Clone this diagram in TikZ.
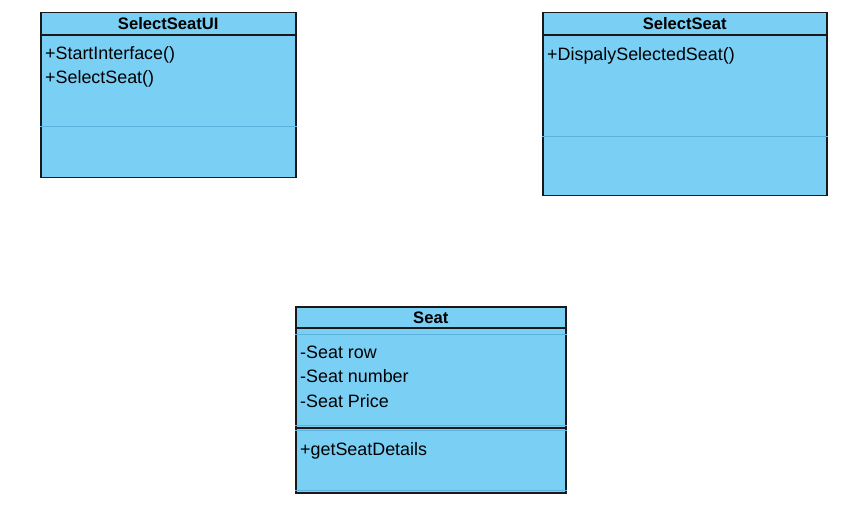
\documentclass[tikz,border=0pt]{standalone}
\usepackage{fontspec}
\setmainfont{Liberation Sans}
\usetikzlibrary{positioning}
\definecolor{classfill}{RGB}{122,207,245}
\definecolor{classrule}{RGB}{92,178,220}
\tikzstyle{classbox} = [draw=black!90, line width=1.5pt, fill=classfill, rectangle,
anchor=north west, inner sep=0pt]
\tikzstyle{title} = [font=\fontsize{16.6}{18}\selectfont\bfseries, inner sep=0pt]
\tikzstyle{member} = [font=\fontsize{17.9}{20}\selectfont, inner sep=0pt,
text height=13pt, text depth=4pt]
\tikzstyle{header} = [draw=black!90, line width=1.2pt]
\tikzstyle{faint} = [draw=classrule, line width=0.8pt]

\begin{document}
\begin{tikzpicture}[x=1pt, y=-1pt]
	\useasboundingbox (0,0) rectangle (854,513);
	% class boxes
	\node [classbox, minimum width=255pt, minimum height=165pt] (UI) at (40,12) {};
	\node [classbox, minimum width=284pt, minimum height=183pt] (Select) at (542,12) {};
	\node [classbox, minimum width=270pt, minimum height=186pt] (Seat) at (295,306) {};
	
	% compartments
	\draw [header] ([yshift=-23pt]UI.north west) -- ([yshift=-23pt]UI.north east);
	\draw [faint] ([yshift=-114pt]UI.north west) -- ([yshift=-114pt]UI.north east);
	\draw [header] ([yshift=-23pt]Select.north west) -- ([yshift=-23pt]Select.north east);
	\draw [faint] ([yshift=-124pt]Select.north west) -- ([yshift=-124pt]Select.north east);
	\draw [header] ([yshift=-22pt]Seat.north west) -- ([yshift=-22pt]Seat.north east);
	\draw [faint] ([yshift=-28pt]Seat.north west) -- ([yshift=-28pt]Seat.north east);
	\draw [faint] ([yshift=-119pt]Seat.north west) -- ([yshift=-119pt]Seat.north east);
	\draw [header] ([xshift=2pt,yshift=-122pt]Seat.north west) -- ([xshift=-2pt,yshift=-122pt]Seat.north east);
	\draw [faint] ([yshift=-124pt]Seat.north west) -- ([yshift=-124pt]Seat.north east);
	\draw [faint] ([yshift=-184pt]Seat.north west) -- ([yshift=-184pt]Seat.north east);
	
	% titles
	\node [title] (UITitle) at ([yshift=-12pt]UI.north) {SelectSeatUI};
	\node [title] (SelectTitle) at ([yshift=-12pt]Select.north) {SelectSeat};
	\node [title] (SeatTitle) at ([yshift=-12pt]Seat.north) {Seat};
	
	% members
	\node [member, anchor=base west] (StartInterface) at (45,59.5) {+StartInterface()};
	\node [member, below=7pt of StartInterface.south west, anchor=north west] (SelectSeatOp) {+SelectSeat()};
	\node [member, anchor=base west] (Display) at (547,60.5) {+DispalySelectedSeat()};
	\node [member, anchor=base west] (SeatRow) at (300,358.5) {-Seat row};
	\node [member, below=7pt of SeatRow.south west, anchor=north west] (SeatNumber) {-Seat number};
	\node [member, below=7pt of SeatNumber.south west, anchor=north west] (SeatPrice) {-Seat Price};
	\node [member, below=31pt of SeatPrice.south west, anchor=north west] (Details) {+getSeatDetails};
	
\end{tikzpicture}
\end{document}
